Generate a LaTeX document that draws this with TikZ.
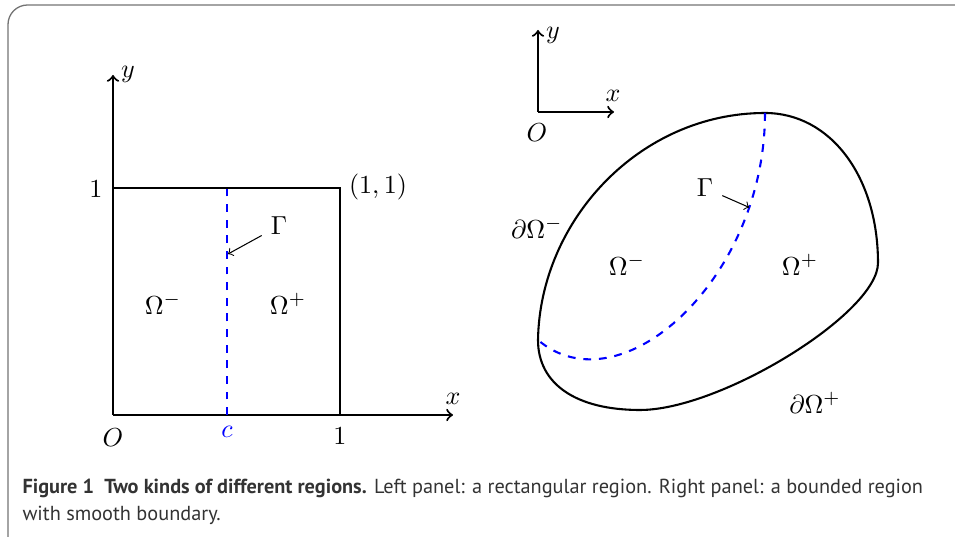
\documentclass[tikz,border=0pt]{standalone}
\usepackage{fontspec}
\newfontfamily\captionfont{PT Sans}
\definecolor{framegray}{gray}{0.45}
\definecolor{captiongray}{gray}{0.2}

\begin{document}
\begin{tikzpicture}[x = 0.01351cm, y = -0.01351cm, > = to,
	axis/.style = {->, thick},
	boundary/.style = {thick},
	interface/.style = {thick, dashed, blue},
	pointer/.style = {->, thin}]

	\useasboundingbox (0, 0) rectangle (955, 537);

	% Frame
	
	\draw [framegray, line width = 0.5pt, rounded corners = 7.5pt] (8, 580) -- (8, 5) -- (990, 5);

	% Left panel: axes and the unit square
	
	\coordinate (O1) at (113, 415);
	\coordinate (X1) at (453, 415);
	\coordinate (Y1) at (113, 75);
	\coordinate (A1) at (340, 415);
	\coordinate (B1) at (340, 188);
	\coordinate (C1) at (113, 188);
	\coordinate (ctop) at (227, 188);
	\coordinate (cbot) at (227, 415);
	
	\draw [axis] (O1) -- (X1);
	\draw [axis] (O1) -- (Y1);
	\draw [boundary] (C1) -- (B1) -- (A1);
	\draw [interface] (cbot) -- (ctop);
	
	\node (ylab1) at (128, 74) {$y$};
	\node (xlab1) at (453, 399) {$x$};
	\node (oneY) at (96, 189) {$1$};
	\node (corner) at (378, 187) {$(1,1)$};
	\node (olab1) at (113, 438) {$O$};
	\node [blue] (clab) at (227, 432) {$c$};
	\node (oneX) at (340, 436) {$1$};
	\node (omm1) at (163, 304) {$\Omega^-$};
	\node (omp1) at (288, 304) {$\Omega^+$};
	
	\node (gam1) at (279, 226) {$\Gamma$};
	\coordinate (gt1) at (228, 254);
	\draw [pointer] (gam1) -- (gt1);

	% Right panel: axes and the smooth region
	
	\coordinate (O2) at (538, 112);
	\coordinate (X2) at (614, 112);
	\coordinate (Y2) at (538, 30);
	
	\draw [axis] (O2) -- (X2);
	\draw [axis] (O2) -- (Y2);
	
	\node (ylab2) at (553, 35) {$y$};
	\node (xlab2) at (613, 96) {$x$};
	\node (olab2) at (537, 133) {$O$};
	
	\coordinate (top) at (765, 113);
	\coordinate (right) at (878, 263);
	\coordinate (bottom) at (640, 410);
	\coordinate (left) at (538, 340);
	
	\draw [boundary] (top) .. controls (830, 113) and (878, 176) .. (right)
		.. controls (878, 313) and (721, 410) .. (bottom)
		.. controls (576, 410) and (538, 384) .. (left)
		.. controls (540, 220) and (640, 113) .. (top) -- cycle;
	\draw [interface] (top) .. controls (765, 280) and (620, 410) .. coordinate [pos = 0.2] (gt2) (left);
	
	\node (dom) at (537, 228) {$\partial\Omega^-$};
	\node (dop) at (815, 403) {$\partial\Omega^+$};
	\node (omm2) at (627, 265) {$\Omega^-$};
	\node (omp2) at (800, 265) {$\Omega^+$};
	
	\node (gam2) at (705, 188) {$\Gamma$};
	\draw [pointer] (gam2) -- (gt2);

	% Caption
	
	\node [anchor = north west, inner sep = 0pt, align = left, text = captiongray,
		font = \captionfont\fontsize{7.8}{10.2}\selectfont] (caption) at (22, 479)
		{\textbf{Figure 1\enspace Two kinds of different regions.} Left panel: a rectangular region. Right panel: a bounded region\\
		with smooth boundary.};

\end{tikzpicture}
\end{document}
